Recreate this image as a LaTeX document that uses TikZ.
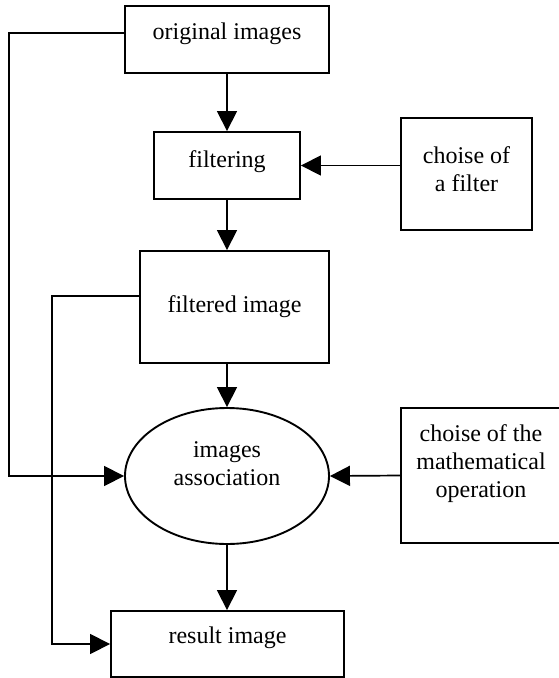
\documentclass[tikz,border=0pt]{standalone}
\usepackage{fontspec}
\setmainfont{Liberation Serif}
\usetikzlibrary{arrows.meta,shapes.geometric}

\begin{document}
\begin{tikzpicture}[x=1pt, y=-1pt,
    frame/.style={draw, line width=1.9pt, inner sep=0pt},
    arr/.style={line width=1.7pt, -{Triangle[length=20pt,width=20pt]}},
    lbl/.style={font=\fontsize{24}{27.6}\selectfont, align=center, anchor=base, inner sep=0pt}]
    \useasboundingbox (0,0) rectangle (559,678);
    % Frames
    \node[frame, minimum width=204pt, minimum height=67pt] (orig) at (227,39.5) {};
    \node[frame, minimum width=146pt, minimum height=67pt] (filt) at (227,165.5) {};
    \node[frame, minimum width=131pt, minimum height=112pt] (fchoice) at (466.5,174) {};
    \node[frame, minimum width=189pt, minimum height=112pt] (filtered) at (234.5,307) {};
    \node[frame, ellipse, minimum width=204pt, minimum height=136pt] (assoc) at (227,476) {};
    \node[frame, minimum width=160pt, minimum height=135pt] (opchoice) at (481,475.5) {};
    \node[frame, minimum width=233pt, minimum height=66pt] (result) at (227.5,644) {};
    % Texts (base = last line)
    \node[lbl] (origtxt) at (227,39) {original images};
    \node[lbl] (filttxt) at (227,167) {filtering};
    \node[lbl] (fchoicetxt) at (466.5,191) {choise of\\a filter};
    \node[lbl] (filteredtxt) at (234.5,312) {filtered image};
    \node[lbl] (assoctxt) at (227,485) {images\\association};
    \node[lbl] (opchoicetxt) at (481,497) {choise of the\\mathematical\\operation};
    \node[lbl] (resulttxt) at (227.5,643) {result image};
    % Connectors
    \draw[arr] (orig.south) -- (filt.north);
    \draw[arr] (fchoice.west |- filt.east) -- (filt.east);
    \draw[arr] (filt.south) -- (filt.south |- filtered.north);
    \draw[arr] (assoc.north |- filtered.south) -- (assoc.north);
    \draw[arr] (opchoice.west) -- (assoc.east);
    \draw[arr] (assoc.south) -- (assoc.south |- result.north);
    % Bypass lines
    \draw[arr] ([yshift=6.5pt]orig.west) -| (9,200) |- (assoc.west);
    \draw[arr] ([yshift=11pt]filtered.west) -| (52,500) |- (result.west);
\end{tikzpicture}
\end{document}
